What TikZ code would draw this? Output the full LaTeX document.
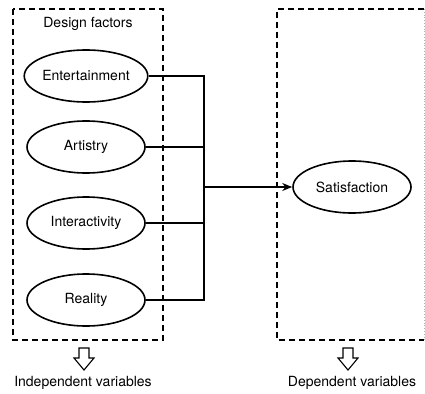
\documentclass[tikz,border=0pt]{standalone}
\usepackage{fontspec}
\setmainfont{TeX Gyre Heros}
\usetikzlibrary{arrows.meta,shapes.geometric}

\tikzset{hollowdown/.pic={
  \draw[line width=1.1pt,line join=miter] (-5,0) -- (5,0) -- (5,10) -- (10,10) -- (0,22) -- (-10,10) -- (-5,10) -- cycle;}}

\begin{document}
\begin{tikzpicture}[x=1pt,y=-1pt,>={Stealth[length=10pt,width=8pt]},
  every node/.style={font=\fontsize{14}{16}\selectfont},
  factor/.style={ellipse,draw,line width=1.6pt,minimum width=118pt,minimum height=52pt,inner sep=0pt},
  group/.style={draw,line width=1.6pt,dash pattern=on 6pt off 4pt},
  link/.style={line width=1.6pt}]
  \useasboundingbox (0,0) rectangle (425,393);
  % boxes
  \draw[group] (13,9) rectangle (163,340);
  \draw[group] (424,9) -- (277,9) -- (277,340) -- (424,340);
  \draw[dotted,gray!60,line width=0.8pt] (424,9) -- (424,340);
  \node (df) at (88,24) {Design factors};
  \node[factor] (ent) at (86,76) {Entertainment};
  \node[factor] (art) at (86,147) {Artistry};
  \node[factor] (int) at (86,223) {Interactivity};
  \node[factor] (rea) at (86,300) {Reality};
  \node[factor] (sat) at (352,187) {Satisfaction};
  \coordinate (bus) at (204,187);
  \draw[link] (ent.east) -| (bus);
  \draw[link] (art.east) -| (bus);
  \draw[link] (int.east) -| (bus);
  \draw[link] (rea.east) -| (bus);
  \draw[link,->] (bus) -- (sat);
  % bottom labels
  \pic at (84,348) {hollowdown};
  \pic at (348,348) {hollowdown};
  \node (iv) at (83,383) {Independent variables};
  \node (dv) at (352,383) {Dependent variables};
\end{tikzpicture}
\end{document}
